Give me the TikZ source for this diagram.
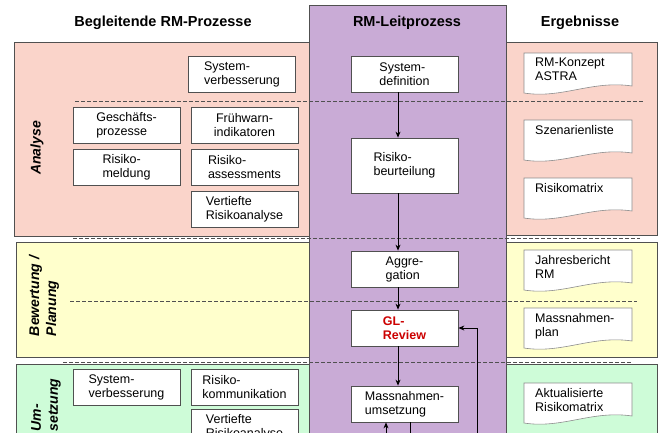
\documentclass[tikz,border=0pt]{standalone}
\usepackage{fontspec}
\setmainfont{Liberation Sans}
\usetikzlibrary{arrows.meta,calc}
\definecolor{pinkbg}{RGB}{250,212,202}
\definecolor{yellowbg}{RGB}{255,255,204}
\definecolor{greenbg}{RGB}{206,252,216}
\definecolor{purplebg}{RGB}{201,171,214}
\definecolor{edge}{RGB}{80,80,80}
\definecolor{docedge}{RGB}{140,140,140}
\definecolor{glred}{RGB}{204,0,0}
\newcommand\docnode[3]{%
  \draw[docshape] (524,#2) -- (632,#2) -- (632,#2+33)
     .. controls (592,#2+27) and (562,#2+46) .. (524,#2+40) -- cycle;
  \node[doctext] (#1) at (535,#2+5) {#3};
}
\begin{document}
\begin{tikzpicture}[x=1pt,y=-1pt,
  panel/.style={draw=edge,line width=0.8pt},
  stepbox/.style={draw=edge,fill=white,line width=0.8pt,minimum width=107pt,
     minimum height=36pt,inner sep=0pt,align=left,
     font=\fontsize{12.5}{14}\selectfont},
  docshape/.style={draw=docedge,fill=white,line width=0.6pt},
  doctext/.style={anchor=north west,inner sep=0pt,align=left,
     font=\fontsize{12.5}{14}\selectfont},
  header/.style={font=\fontsize{14.5}{17}\selectfont\bfseries},
  phase/.style={rotate=90,align=left,font=\fontsize{14}{17}\selectfont\bfseries\itshape},
  sep/.style={draw=edge,dashed,dash pattern=on 3.5pt off 2.5pt,line width=0.6pt},
  arr/.style={draw=black,line width=0.8pt,-{Stealth[length=6pt,width=5pt]}},
  con/.style={draw=black,line width=0.8pt}]
\useasboundingbox (0,0) rectangle (661,432);
\clip (0,0) rectangle (661,432);
\fill[white] (0,0) rectangle (661,432);
% panels
\filldraw[panel,fill=pinkbg] (14,42) rectangle (309,236);
\filldraw[panel,fill=yellowbg] (16,242) rectangle (309,357);
\filldraw[panel,fill=greenbg] (16,364) rectangle (309,445);
\filldraw[panel,fill=purplebg] (309,5) rectangle (506,445);
\filldraw[panel,fill=pinkbg] (506,42) rectangle (657,235);
\filldraw[panel,fill=yellowbg] (506,242) rectangle (657,357);
\filldraw[panel,fill=greenbg] (506,364) rectangle (657,445);
% headers
\node[header] (h1) at (163,23) {Begleitende RM-Prozesse};
\node[header] (h2) at (407,23) {RM-Leitprozess};
\node[header] (h3) at (580,23) {Ergebnisse};
% phase labels
\node[phase] (pa) at (37,148) {Analyse};
\node[phase] (pb) at (44,296) {Bewertung /\\Planung};
\node[phase] (pc) at (46,405) {Um-\\setzung};
% dashed separators
\draw[sep] (75,101) -- (643,101);
\draw[sep] (73,238.5) -- (640,238.5);
\draw[sep] (70,301) -- (637,301);
\draw[sep] (63,362) -- (632,362);
% left boxes
\node[stepbox] (sv1) at (242,74) {System-\\verbesserung};
\node[stepbox] (gp) at (126.5,125) {Geschäfts-\\prozesse};
\node[stepbox,align=center] (fw) at (244.5,125) {Frühwarn-\\indikatoren};
\node[stepbox] (rm) at (126.5,167) {Risiko-\\meldung};
\node[stepbox] (ra) at (244.5,167) {Risiko-\\assessments};
\node[stepbox] (vra) at (244.5,209) {Vertiefte\\Risikoanalyse};
\node[stepbox] (sv2) at (126.5,387) {System-\\verbesserung};
\node[stepbox] (rk) at (244.5,387) {Risiko-\\kommunikation};
\node[stepbox] (vra2) at (244.5,427) {Vertiefte\\Risikoanalyse};
% middle boxes
\node[stepbox] (sd) at (404.5,74) {System-\\definition};
\node[stepbox,minimum height=55pt] (rb) at (404.5,165.5) {Risiko-\\beurteilung};
\node[stepbox] (ag) at (404.5,269) {Aggre-\\gation};
\node[stepbox,text=glred,font=\fontsize{12.5}{14}\selectfont\bfseries] (gl) at (404.5,328) {GL-\\Review};
\node[stepbox] (mu) at (404.5,404) {Massnahmen-\\umsetzung};
% documents
\docnode{d1}{53}{RM-Konzept\\ASTRA}
\docnode{d2}{120}{Szenarienliste}
\docnode{d3}{178}{Risikomatrix}
\docnode{d4}{250}{Jahresbericht\\RM}
\docnode{d5}{308}{Massnahmen-\\plan}
\docnode{d6}{383}{Aktualisierte\\Risikomatrix}
% arrows
\coordinate (ax) at (398,0);
\draw[arr] (sd.south -| ax) -- (rb.north -| ax);
\draw[arr] (rb.south -| ax) -- (ag.north -| ax);
\draw[arr] (ag.south -| ax) -- (gl.north -| ax);
\draw[arr] (gl.south -| ax) -- (mu.north -| ax);
\coordinate (fb) at (477,445);
\draw[arr] (fb) |- (gl.east);
\coordinate (up) at (386,445);
\draw[arr] (up) -- (mu.south -| up);
\coordinate (dn) at (410,445);
\draw[con] (mu.south -| dn) -- (dn);
\end{tikzpicture}
\end{document}
